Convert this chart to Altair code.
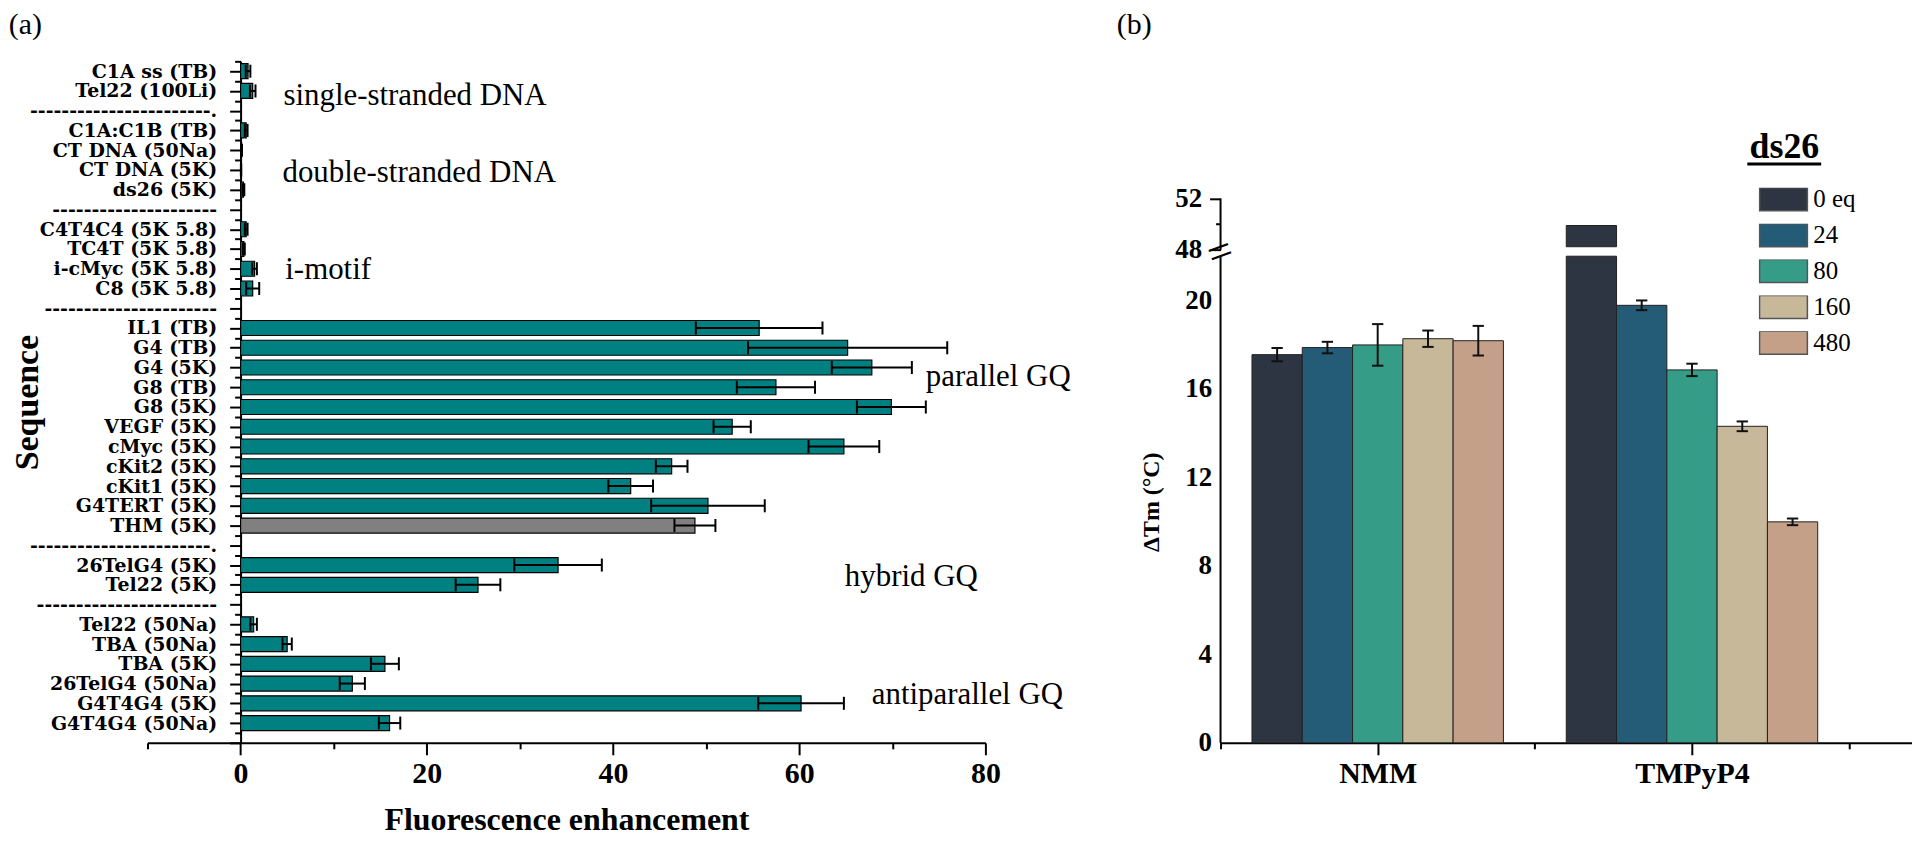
import json
import numpy as np
import pandas as pd
import altair as alt

FONT = "Liberation Serif"
LABEL_FONT = "DejaVu Serif"

# ---------------- panel (a): fluorescence enhancement ----------------
seq_labels = [
    "C1A ss (TB)", "Tel22 (100Li)", "-----------------------.",
    "C1A:C1B (TB)", "CT DNA (50Na)", "CT DNA (5K)", "ds26 (5K)", "---------------------",
    "C4T4C4 (5K 5.8)", "TC4T (5K 5.8)", "i-cMyc (5K 5.8)", "C8 (5K 5.8)", "----------------------",
    "IL1 (TB)", "G4 (TB)", "G4 (5K)", "G8 (TB)", "G8 (5K)", "VEGF (5K)", "cMyc (5K)",
    "cKit2 (5K)", "cKit1 (5K)", "G4TERT (5K)", "THM (5K)", "-----------------------.",
    "26TelG4 (5K)", "Tel22 (5K)", "-----------------------",
    "Tel22 (50Na)", "TBA (50Na)", "TBA (5K)", "26TelG4 (50Na)", "G4T4G4 (5K)", "G4T4G4 (50Na)",
]
fe_mean = [0.8, 1.3, None,
           0.6, 0.1, 0.05, 0.3, None,
           0.6, 0.35, 1.5, 1.3, None,
           55.7, 65.2, 67.8, 57.5, 69.9, 52.8, 64.8, 46.3, 41.9, 50.2, 48.8, None,
           34.1, 25.5, None,
           1.4, 5.0, 15.5, 12.0, 60.2, 16.0]
fe_err = [0.25, 0.3, None,
          0.15, 0.05, 0.02, 0.1, None,
          0.15, 0.1, 0.25, 0.7, None,
          6.8, 10.7, 4.3, 4.2, 3.7, 2.0, 3.8, 1.7, 2.4, 6.1, 2.2, None,
          4.7, 2.4, None,
          0.35, 0.5, 1.5, 1.35, 4.6, 1.15]

ann_text = ["single-stranded DNA", "double-stranded DNA", "i-motif",
            "parallel GQ", "hybrid GQ", "antiparallel GQ"]
ann_x = [4.6, 4.5, 4.8, 73.6, 64.9, 67.8]
ann_row = [1.27, 5.16, 10.06, 15.5, 25.6, 31.57]

A_W, A_H = 841, 684
A_XDOM = [-10, 80]
A_YDOM = [-0.5, 34]
BAR_HALF = 0.38
CAP_HALF = 0.33

rows = []
for i, (lab, m, e) in enumerate(zip(seq_labels, fe_mean, fe_err)):
    if m is None:
        continue
    rows.append({"row": i, "seq": lab, "fe": m, "err": e})
df_a = pd.DataFrame(rows)
df_ann = pd.DataFrame({"text": ann_text, "x": ann_x, "row": ann_row})
df_tag_a = pd.DataFrame({"text": ["(a)"], "x": [-24.9], "row": [-2.32]})

xa = alt.Scale(domain=A_XDOM, nice=False, zero=False)
ya = alt.Scale(domain=A_YDOM, reverse=True, nice=False, zero=False)
y_offset = -(0 - A_XDOM[0]) * A_W / (A_XDOM[1] - A_XDOM[0])

x_axis_a = alt.Axis(
    values=list(range(-10, 81, 10)),
    labelExpr="datum.value >= 0 && datum.value % 20 == 0 ? datum.value : ''",
    tickSize={"condition": {"test": "datum.value >= 0 && datum.value % 20 == 0", "value": 12}, "value": 6},
    labelFontSize=30, labelFontWeight="bold", labelPadding=4,
    labelFlush=False, labelOverlap=False,
    title="Fluorescence enhancement", titleFontSize=32, titleFontWeight="bold", titlePadding=16,
    grid=False,
)
y_axis_a = alt.Axis(
    values=[float(v) for v in np.arange(-0.5, 34.01, 0.5)],
    labelExpr=json.dumps(seq_labels) + "[datum.value] || ''",
    tickSize={"condition": {"test": "datum.value % 1 == 0", "value": 11}, "value": 6},
    offset=y_offset,
    labelFont=LABEL_FONT, labelFontSize=19, labelFontWeight="bold", labelPadding=13,
    labelFlush=False, labelOverlap=False, labelLimit=0,
    title="Sequence", titleFontSize=34, titleFontWeight="bold",
    titleAngle=270, titleX=-214, titleY=A_H / 2, titleAlign="center", titleBaseline="middle",
    grid=False,
)

XA = dict(scale=xa, axis=x_axis_a)
YA = dict(scale=ya, axis=y_axis_a)

base_a = alt.Chart(df_a).transform_calculate(
    lo="datum.fe - datum.err", hi="datum.fe + datum.err",
    y0=f"datum.row - {BAR_HALF}", y1=f"datum.row + {BAR_HALF}",
    c0=f"datum.row - {CAP_HALF}", c1=f"datum.row + {CAP_HALF}",
    zero="0",
)
bars_a = base_a.mark_bar(stroke="black", strokeWidth=1.2).encode(
    x=alt.X("zero:Q", **XA), x2="fe:Q",
    y=alt.Y("y0:Q", **YA), y2="y1:Q",
    color=alt.condition(alt.datum.seq == "THM (5K)", alt.value("#808080"), alt.value("#008080")),
)
err_a = base_a.mark_rule(color="black", strokeWidth=2).encode(
    x=alt.X("lo:Q", **XA), x2="hi:Q",
    y=alt.Y("row:Q", **YA),
)
cap_lo = base_a.mark_rule(color="black", strokeWidth=2).encode(
    x=alt.X("lo:Q", **XA),
    y=alt.Y("c0:Q", **YA), y2="c1:Q",
)
cap_hi = base_a.mark_rule(color="black", strokeWidth=2).encode(
    x=alt.X("hi:Q", **XA),
    y=alt.Y("c0:Q", **YA), y2="c1:Q",
)
ann_a = alt.Chart(df_ann).mark_text(align="left", baseline="middle", font=FONT, fontSize=31, color="black").encode(
    x=alt.X("x:Q", **XA), y=alt.Y("row:Q", **YA), text="text:N",
)
tag_a = alt.Chart(df_tag_a).mark_text(align="left", baseline="middle", font=FONT, fontSize=30, color="black").encode(
    x=alt.X("x:Q", **XA), y=alt.Y("row:Q", **YA), text="text:N",
)
left = alt.layer(bars_a, err_a, cap_lo, cap_hi, ann_a, tag_a).properties(width=A_W, height=A_H)

# ---------------- panel (b): delta Tm with broken axis ----------------
groups = ["NMM", "TMPyP4"]
series = ["0 eq", "24", "80", "160", "480"]
colors = ["#2e3542", "#245c78", "#359c87", "#c8b89a", "#c3a087"]
nmm_dtm = [17.55, 17.87, 17.99, 18.27, 18.18]
nmm_err = [0.30, 0.26, 0.94, 0.37, 0.67]
tmpyp4_dtm = [49.9, 19.78, 16.86, 14.31, 9.99]
tmpyp4_err = [0.0, 0.22, 0.28, 0.22, 0.15]

B_W, B_H = 694, 684
PX_LOW = 22.2          # px per unit on the lower segment
PX_UP = 12.9           # px per unit on the upper segment
GAP_PX = 6.3           # gap between the two segments
BREAK_LO, BREAK_HI, UP_TOP = 22.0, 48.0, 52.0
PIECE_START = 48.25
B_XDOM = [0.5, 2.7]
B_YDOM = [0, B_H / PX_LOW]
BAR_W = 0.16
CAP_W = 0.018
LEFT_ORIGIN_SHIFT = 1224 - 147   # legend position is measured from the first panel's origin


def disp(v):
    if v <= BREAK_LO:
        return v
    return BREAK_LO + (GAP_PX + (v - BREAK_HI) * PX_UP) / PX_LOW


bar_rows, err_rows = [], []
for gi, (g, vals, errs) in enumerate(zip(groups, [nmm_dtm, tmpyp4_dtm], [nmm_err, tmpyp4_err])):
    for si, (s, v, e) in enumerate(zip(series, vals, errs)):
        xc = gi + 1 + (si - 2) * BAR_W
        pieces = [(0.0, v)] if v <= BREAK_LO else [(0.0, BREAK_LO), (PIECE_START, v)]
        for p0, p1 in pieces:
            bar_rows.append({"series": s, "x0": xc - BAR_W / 2, "x1": xc + BAR_W / 2,
                             "y0": disp(p0), "y1": disp(p1)})
        if e > 0:
            err_rows.append({"xc": xc, "cx0": xc - CAP_W, "cx1": xc + CAP_W,
                             "lo": disp(v - e), "hi": disp(v + e)})
df_bars = pd.DataFrame(bar_rows)
df_err = pd.DataFrame(err_rows)
df_axis = pd.DataFrame({"x": [B_XDOM[0]] * 2,
                        "y0": [0.0, disp(BREAK_HI)], "y1": [BREAK_LO, disp(UP_TOP)]})
df_break = pd.DataFrame({"x": [B_XDOM[0]], "y": [(BREAK_LO + disp(BREAK_HI)) / 2], "t": ["="]})
df_ds = pd.DataFrame({"x": [2.294], "y": [26.44], "t": ["ds26"]})
df_ul = pd.DataFrame({"x0": [2.176], "x1": [2.411], "y": [26.17]})
df_tag_b = pd.DataFrame({"x": [0.17], "y": [32.43], "t": ["(b)"]})

xb = alt.Scale(domain=B_XDOM, nice=False, zero=False)
yb = alt.Scale(domain=B_YDOM, nice=False, zero=False)

inv = f"({BREAK_HI} + ((datum.value - {BREAK_LO}) * {PX_LOW} - {GAP_PX}) / {PX_UP})"
yb_ticks = [float(v) for v in range(0, 21, 2)] + [disp(48.0), disp(50.0), disp(52.0)]
y_axis_b = alt.Axis(
    values=yb_ticks,
    labelExpr=f"datum.value <= {BREAK_LO} ? (datum.value % 4 == 0 ? datum.value : '') : (round({inv}) % 4 == 0 ? round({inv}) : '')",
    tickSize={"condition": {"test": f"datum.value <= {BREAK_LO} ? datum.value % 4 == 0 : round({inv}) % 4 == 0", "value": 11}, "value": 5},
    domain=False,
    labelFontSize=27, labelFontWeight="bold", labelPadding=8,
    labelFlush=False, labelOverlap=False,
    title="ΔTm (°C)", titleFontSize=24, titleFontWeight="bold",
    titleAngle=270, titleX=-69, titleY=442, titleAlign="center", titleBaseline="middle",
    grid=False,
)
x_axis_b = alt.Axis(
    values=[0.5, 1.0, 1.5, 2.0, 2.5],
    labelExpr=json.dumps(groups) + "[datum.value - 1] || ''",
    tickSize={"condition": {"test": "datum.value % 1 == 0", "value": 12}, "value": 6},
    labelFontSize=30, labelFontWeight="bold", labelPadding=4,
    labelFlush=False, labelOverlap=False, title=None, grid=False,
)
XB = dict(scale=xb, axis=x_axis_b)
YB = dict(scale=yb, axis=y_axis_b)

bars_b = alt.Chart(df_bars).mark_bar(stroke="#222222", strokeWidth=1).encode(
    x=alt.X("x0:Q", **XB), x2="x1:Q",
    y=alt.Y("y0:Q", **YB), y2="y1:Q",
    color=alt.Color("series:N", scale=alt.Scale(domain=series, range=colors),
                    legend=alt.Legend(title=None, orient="none",
                                      legendX=540 + LEFT_ORIGIN_SHIFT, legendY=127,
                                      symbolType="M-1,-0.48H1V0.48H-1Z", symbolSize=2304,
                                      clipHeight=23, rowPadding=10, labelFont=FONT,
                                      labelFontSize=25, labelOffset=5, labelColor="black",
                                      symbolStrokeColor="#555555", symbolStrokeWidth=1.5)),
)
err_b = alt.Chart(df_err).mark_rule(color="#111111", strokeWidth=2).encode(
    x=alt.X("xc:Q", **XB), y=alt.Y("lo:Q", **YB), y2="hi:Q",
)
cap_b_lo = alt.Chart(df_err).mark_rule(color="#111111", strokeWidth=2).encode(
    x=alt.X("cx0:Q", **XB), x2="cx1:Q", y=alt.Y("lo:Q", **YB),
)
cap_b_hi = alt.Chart(df_err).mark_rule(color="#111111", strokeWidth=2).encode(
    x=alt.X("cx0:Q", **XB), x2="cx1:Q", y=alt.Y("hi:Q", **YB),
)
axis_b = alt.Chart(df_axis).mark_rule(color="black", strokeWidth=2).encode(
    x=alt.X("x:Q", **XB), y=alt.Y("y0:Q", **YB), y2="y1:Q",
)
break_b = alt.Chart(df_break).mark_text(font=FONT, fontSize=44, angle=340, align="center",
                                       baseline="middle", color="black").encode(
    x=alt.X("x:Q", **XB), y=alt.Y("y:Q", **YB), text="t:N",
)
ds_b = alt.Chart(df_ds).mark_text(font=FONT, fontSize=36, fontWeight="bold", align="center",
                                  baseline="alphabetic", color="black").encode(
    x=alt.X("x:Q", **XB), y=alt.Y("y:Q", **YB), text="t:N",
)
ul_b = alt.Chart(df_ul).mark_rule(color="black", strokeWidth=3).encode(
    x=alt.X("x0:Q", **XB), x2="x1:Q", y=alt.Y("y:Q", **YB),
)
tag_b = alt.Chart(df_tag_b).mark_text(font=FONT, fontSize=30, align="left", baseline="middle",
                                      color="black").encode(
    x=alt.X("x:Q", **XB), y=alt.Y("y:Q", **YB), text="t:N",
)
right = alt.layer(bars_b, err_b, cap_b_lo, cap_b_hi, axis_b, break_b, ds_b, ul_b, tag_b).properties(
    width=B_W, height=B_H)

chart = alt.hconcat(left, right, spacing=236, bounds="flush").properties(
    padding={"left": 0, "top": 0, "right": 0, "bottom": 0}
).configure_view(stroke=None).configure_axis(
    domainColor="black", tickColor="black", labelColor="black", titleColor="black",
    labelFont=FONT, titleFont=FONT, domainWidth=2, tickWidth=2,
)

chart.save("out.html", embed_options={"renderer": "svg", "actions": False})
